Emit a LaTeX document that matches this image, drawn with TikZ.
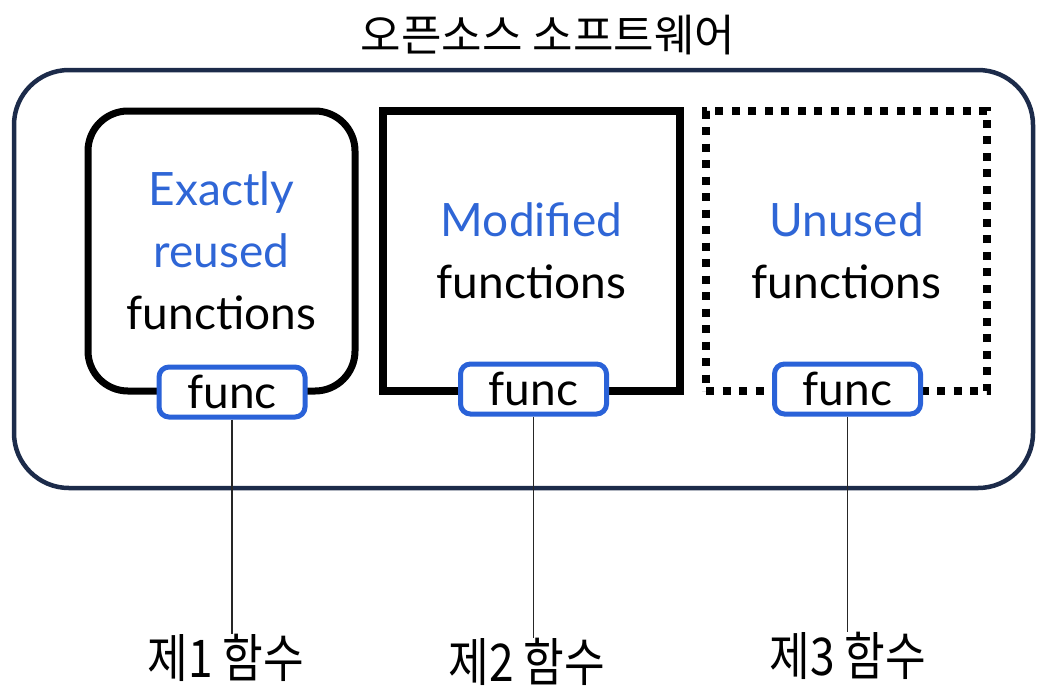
\documentclass[tikz,border=0pt]{standalone}
\usepackage{fontspec}
\setmainfont{Lato}
\newfontfamily\krtitle{Noto Sans CJK KR}
\newfontfamily\krlab[FakeStretch=0.85]{Noto Sans CJK KR}
\definecolor{navy}{HTML}{1C2B4A}
\definecolor{fblue}{HTML}{2A62D8}
\definecolor{tblue}{HTML}{2F66D6}
\begin{document}
\begin{tikzpicture}[x=1pt,y=-1pt,
  outerbox/.style={draw=navy,line width=4.5pt,rounded corners=55pt,minimum width=1019pt,minimum height=418pt,inner sep=0pt},
  groupbox/.style={draw=black,minimum width=#1,minimum height=280pt,align=center,inner sep=0pt,
     font=\fontsize{46}{62}\selectfont},
  funcbox/.style={draw=fblue,fill=white,line width=5pt,rounded corners=10pt,minimum width=146pt,minimum height=50pt,inner sep=0pt,
     font=\fontsize{46}{50}\selectfont},
  conn/.style={draw=black!85,line width=1.2pt},
  lab/.style={inner sep=0pt,anchor=north,font=\krlab\fontsize{52}{60}\selectfont}
]
\useasboundingbox (0,0) rectangle (1048,691);
\node[font=\krtitle\fontsize{44}{50}\selectfont,inner sep=0pt] (title) at (548,35) {오픈소스 소프트웨어};
\node[outerbox] (outer) at (523.5,279) {};
\node[groupbox=267pt,line width=7pt,rounded corners=40pt] (g1) at (221.5,251)
  {\textcolor{tblue}{Exactly}\\\textcolor{tblue}{reused}\\functions};
\node[groupbox=297pt,line width=8pt,sharp corners] (g2) at (531.5,251)
  {\textcolor{tblue}{Modified}\\functions};
\node[groupbox=281pt,line width=8pt,dash pattern=on 8pt off 8.5pt] (g3) at (846.5,251)
  {\textcolor{tblue}{Unused}\\functions};
\node[funcbox] (f1) at (232,392) {func};
\node[funcbox] (f2) at (533.5,389) {func};
\node[funcbox] (f3) at (847.5,389) {func};
\node[lab] (l1) at (226,634) {제1 함수};
\node[lab] (l2) at (527,638) {제2 함수};
\node[lab] (l3) at (848,632) {제3 함수};
\draw[conn] (f1.south) -- (f1.south |- l1.north);
\draw[conn] (f2.south) -- (f2.south |- l2.north);
\draw[conn] (f3.south) -- (f3.south |- l3.north);
\end{tikzpicture}
\end{document}
